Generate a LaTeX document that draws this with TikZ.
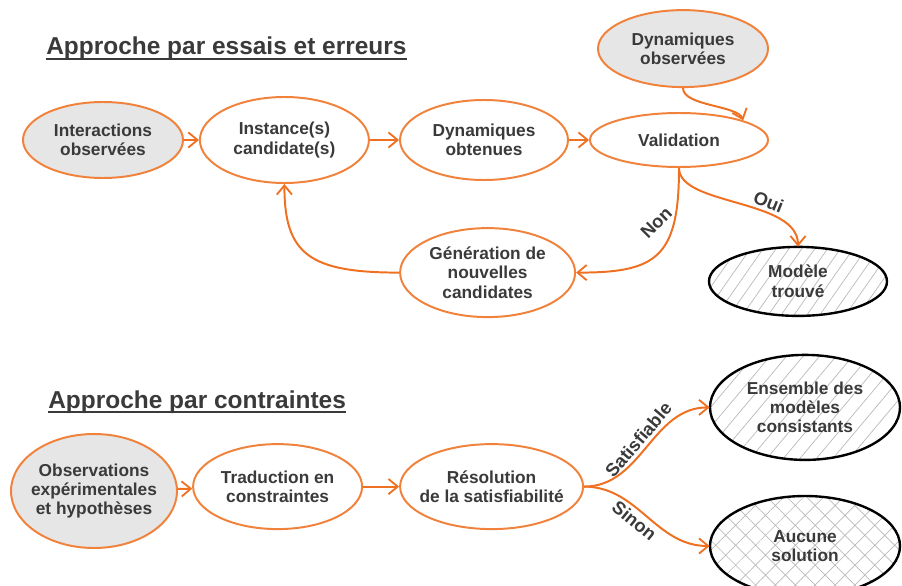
\documentclass[tikz,border=0pt]{standalone}
\usepackage{fontspec}
\setmainfont{Liberation Sans}
\usepackage{xcolor}
\usepackage{tikz}
\usetikzlibrary{shapes.geometric, arrows.meta, patterns.meta, positioning}
\definecolor{ovalorange}{RGB}{240,130,60}
\definecolor{arroworange}{RGB}{238,112,32}
\definecolor{obsgray}{RGB}{230,230,230}
\definecolor{inktext}{RGB}{58,58,58}
\definecolor{hatchgray}{RGB}{185,185,185}
\tikzset{
  stepoval/.style={
    ellipse, draw=ovalorange, line width=1.4pt, fill=white, align=center,
    font=\fontsize{12.3}{13.8}\selectfont\bfseries, text=inktext,
    inner xsep=-8pt, inner ysep=-4pt
  },
  obsoval/.style={stepoval, fill=obsgray},
  resultoval/.style={stepoval, draw=black, line width=1.7pt},
  flowarrow/.style={
    -{Straight Barb[length=2.3mm, width=3.8mm, line width=1.3pt]},
    line width=1.4pt, color=arroworange
  },
  flowlabel/.style={font=\fontsize{13}{15}\selectfont\bfseries, text=inktext, inner sep=2.5pt},
  sectiontitle/.style={
    font=\fontsize{17.4}{20}\selectfont\bfseries, text=inktext,
    inner sep=0pt, anchor=base west
  },
  titlerule/.style={inktext, line width=1.1pt},
}

\begin{document}
\begin{tikzpicture}
  \useasboundingbox (0,0) rectangle (22.55,14.625);

  % === Approche par essais et erreurs ===
  \node[sectiontitle] (trialtitle) at (1.15,13.25) {Approche par essais et erreurs};
  \draw[titlerule] ([yshift=-3pt]trialtitle.base west) -- ([yshift=-3pt]trialtitle.base east);

  \node[obsoval, minimum width=4cm, minimum height=1.9cm] (interactions) at (2.575,11.125)
    {Interactions\\observées};
  \node[stepoval, minimum width=4.225cm, minimum height=2.15cm] (instance) at (7.11,11.125)
    {Instance(s)\\candidate(s)};
  \node[stepoval, minimum width=4.2cm, minimum height=2cm] (dynobt) at (12.1,11.125)
    {Dynamiques\\obtenues};
  \node[stepoval, minimum width=4.45cm, minimum height=1.35cm] (validation) at (16.975,11.125)
    {Validation};
  \node[obsoval, minimum width=4.25cm, minimum height=1.925cm] (dynobs) at (17.075,13.41)
    {Dynamiques\\observées};
  \node[stepoval, minimum width=4.375cm, minimum height=2.225cm] (generation) at (12.19,7.81)
    {Génération de\\nouvelles\\candidates};
  \node[resultoval, minimum width=4.45cm, minimum height=1.725cm,
    pattern={Lines[angle=55, distance=7.5pt, line width=0.5pt]}, pattern color=hatchgray] (modele) at (19.95,7.59)
    {Modèle\\trouvé};

  % === Arrows (essais) ===
  \draw[flowarrow] (interactions.east) -- (instance.west);
  \draw[flowarrow] (instance.east) -- (dynobt.west);
  \draw[flowarrow] (dynobt.east) -- (validation.west);
  \draw[flowarrow] (dynobs.south) to[out=-90, in=110, out distance=0.45cm, in distance=0.4cm] (validation.17);
  \draw[flowarrow] (validation.south) to[out=-90, in=90, out distance=0.95cm, in distance=1.2cm]
    node[flowlabel, sloped, above, pos=0.65] {Oui} (modele.north);
  \draw[flowarrow] (validation.south) to[out=-90, in=0, out distance=2.25cm, in distance=2cm]
    node[flowlabel, pos=0.3, xshift=-0.2cm, rotate=45, anchor=south] {Non} (generation.east);
  \draw[flowarrow] (generation.west) to[out=180, in=-90, out distance=2.25cm, in distance=1.75cm] (instance.south);

  % === Approche par contraintes ===
  \node[sectiontitle] (constrainttitle) at (1.2,4.425) {Approche par contraintes};
  \draw[titlerule] ([yshift=-3pt]constrainttitle.base west) -- ([yshift=-3pt]constrainttitle.base east);

  \node[obsoval, minimum width=4.15cm, minimum height=2.85cm] (observations) at (2.35,2.35)
    {Observations\\expérimentales\\et hypothèses};
  \node[stepoval, minimum width=4.225cm, minimum height=2.125cm] (traduction) at (6.94,2.46)
    {Traduction en\\constraintes};
  \node[stepoval, minimum width=4.575cm, minimum height=2.125cm] (resolution) at (12.29,2.46)
    {Résolution\\de la satisfiabilité};
  \node[resultoval, minimum width=4.75cm, minimum height=2.625cm,
    pattern={Lines[angle=50, distance=9pt, line width=0.5pt]}, pattern color=hatchgray] (ensemble) at (20.125,4.44)
    {Ensemble des\\modèles\\consistants};
  \node[resultoval, minimum width=4.75cm, minimum height=2.5cm,
    pattern={Hatch[angle=45, distance=10pt, line width=0.5pt]}, pattern color=hatchgray] (aucune) at (20.125,0.975)
    {Aucune\\solution};

  % === Arrows (contraintes) ===
  \draw[flowarrow] (observations) -- (traduction);
  \draw[flowarrow] (traduction.east) -- (resolution.west);
  \draw[flowarrow] (resolution.east) to[out=0, in=180]
    node[flowlabel, sloped, above, pos=0.5] {Satisfiable} (ensemble.west);
  \draw[flowarrow] (resolution.east) to[out=0, in=180]
    node[flowlabel, sloped, below, pos=0.45] {Sinon} (aucune.west);

\end{tikzpicture}
\end{document}
